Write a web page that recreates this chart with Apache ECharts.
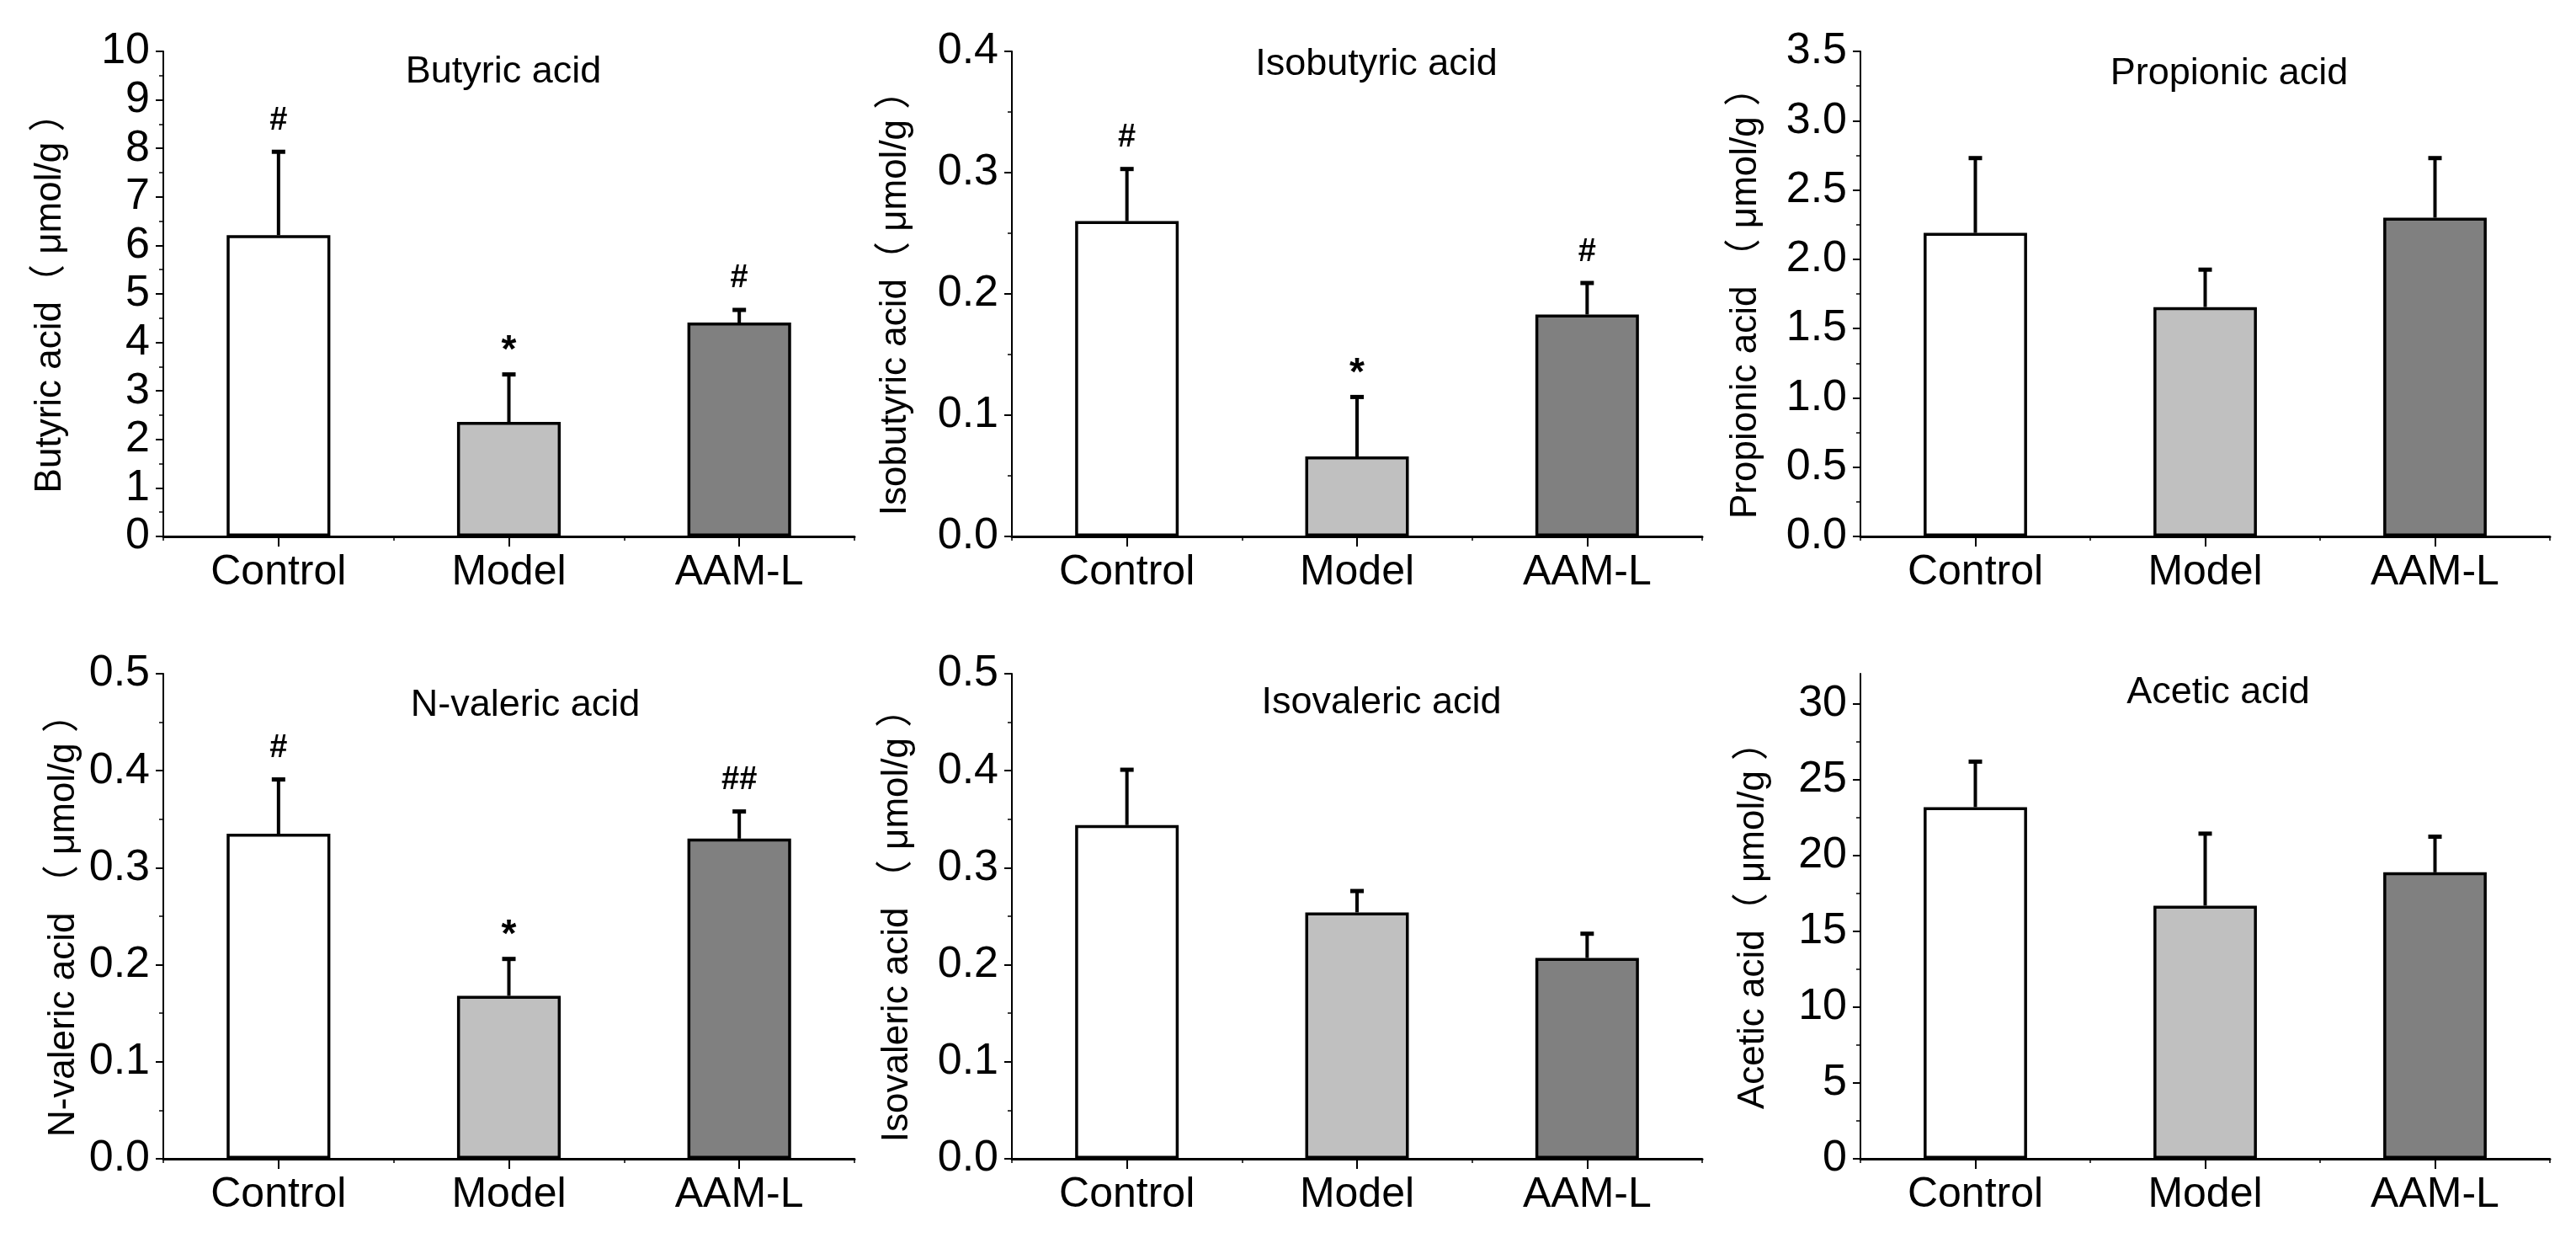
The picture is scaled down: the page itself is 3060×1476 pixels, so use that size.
<!DOCTYPE html>
<html>
<head>
<meta charset="utf-8">
<script src="https://cdn.jsdelivr.net/npm/echarts@6/dist/echarts.min.js"></script>
<style>
html,body{margin:0;padding:0;background:#fff;}
#c{width:3060px;height:1476px;}
</style>
</head>
<body>
<div id="c"></div>
<script>
const categories = ['Control', 'Model', 'AAM-L'];
const groupColors = ['#ffffff', '#c0c0c0', '#808080'];

const butyricMean = [6.21, 2.36, 4.41];
const butyricSD = [1.72, 0.98, 0.26];
const butyricMarks = ['#', '*', '#'];
const butyricTicks = [0, 1, 2, 3, 4, 5, 6, 7, 8, 9, 10];

const isobutyricMean = [0.260, 0.066, 0.183];
const isobutyricSD = [0.043, 0.049, 0.026];
const isobutyricMarks = ['#', '*', '#'];
const isobutyricTicks = [0, 0.1, 0.2, 0.3, 0.4];

const propionicMean = [2.19, 1.655, 2.30];
const propionicSD = [0.54, 0.27, 0.43];
const propionicMarks = ['', '', ''];
const propionicTicks = [0, 0.5, 1.0, 1.5, 2.0, 2.5, 3.0, 3.5];

const nvalericMean = [0.335, 0.168, 0.330];
const nvalericSD = [0.056, 0.038, 0.028];
const nvalericMarks = ['#', '*', '##'];
const nvalericTicks = [0, 0.1, 0.2, 0.3, 0.4, 0.5];

const isovalericMean = [0.344, 0.254, 0.207];
const isovalericSD = [0.057, 0.022, 0.025];
const isovalericMarks = ['', '', ''];
const isovalericTicks = [0, 0.1, 0.2, 0.3, 0.4, 0.5];

const aceticMean = [23.2, 16.7, 18.9];
const aceticSD = [3.0, 4.75, 2.35];
const aceticMarks = ['', '', ''];
const aceticTicks = [0, 5, 10, 15, 20, 25, 30];

const FONT = "'Liberation Sans', Arial, 'Noto Sans CJK SC', sans-serif";

const panels = [
  {title: 'Butyric acid', yName: 'Butyric acid\uFF08 \u03BCmol/g \uFF09', mean: butyricMean, sd: butyricSD, marks: butyricMarks, ticks: butyricTicks, max: 10, dec: 0,
   left: 194, right: 1015, top: 61, bottom: 637, tx: 598, ty: 86, nameGap: 112},
  {title: 'Isobutyric acid', yName: 'Isobutyric acid\uFF08 \u03BCmol/g \uFF09', mean: isobutyricMean, sd: isobutyricSD, marks: isobutyricMarks, ticks: isobutyricTicks, max: 0.4, dec: 1,
   left: 1202, right: 2022, top: 61, bottom: 637, tx: 1635, ty: 77, nameGap: 116},
  {title: 'Propionic acid', yName: 'Propionic acid \uFF08 \u03BCmol/g \uFF09', mean: propionicMean, sd: propionicSD, marks: propionicMarks, ticks: propionicTicks, max: 3.5, dec: 1,
   left: 2210, right: 3029, top: 61, bottom: 637, tx: 2648, ty: 88, nameGap: 114},
  {title: 'N-valeric acid', yName: 'N-valeric acid \uFF08 \u03BCmol/g \uFF09', mean: nvalericMean, sd: nvalericSD, marks: nvalericMarks, ticks: nvalericTicks, max: 0.5, dec: 1,
   left: 194, right: 1015, top: 800, bottom: 1376, tx: 624, ty: 838, nameGap: 96},
  {title: 'Isovaleric acid', yName: 'Isovaleric acid \uFF08 \u03BCmol/g \uFF09', mean: isovalericMean, sd: isovalericSD, marks: isovalericMarks, ticks: isovalericTicks, max: 0.5, dec: 1,
   left: 1202, right: 2022, top: 800, bottom: 1376, tx: 1641, ty: 835, nameGap: 114},
  {title: 'Acetic acid', yName: 'Acetic acid\uFF08 \u03BCmol/g \uFF09', mean: aceticMean, sd: aceticSD, marks: aceticMarks, ticks: aceticTicks, max: 32, dec: 0,
   left: 2210, right: 3029, top: 800, bottom: 1376, tx: 2635, ty: 823, nameGap: 105}
];

const W = 3060, H = 1476;
const grid = [], xAxis = [], yAxis = [], series = [], graphic = [];

panels.forEach((p, i) => {
  grid.push({left: p.left, top: p.top, width: p.right - p.left, height: p.bottom - p.top, containLabel: false});
  const step = p.ticks[1] - p.ticks[0];
  const minors = [];
  for (let k = 0; k < p.ticks.length - 1; k++) minors.push((p.ticks[k] + p.ticks[k + 1]) / 2);

  xAxis.push({
    type: 'category', gridIndex: i, data: categories, position: 'bottom',
    axisLine: {show: true, lineStyle: {color: '#000', width: 3}},
    axisTick: {show: true, alignWithLabel: true, interval: 0, length: 12, lineStyle: {color: '#000', width: 2}},
    axisLabel: {show: true, interval: 0, margin: 18, fontFamily: FONT, fontSize: 50, color: '#000'},
    splitLine: {show: false}
  });
  xAxis.push({
    type: 'category', gridIndex: i, data: categories, position: 'bottom',
    axisLine: {show: false},
    axisTick: {show: true, alignWithLabel: false, interval: 0, length: 5, lineStyle: {color: '#000', width: 1.5}},
    axisLabel: {show: false},
    splitLine: {show: false}
  });

  yAxis.push({
    type: 'value', gridIndex: i, min: 0, max: p.max, interval: step, position: 'left',
    name: p.yName, nameLocation: 'middle', nameGap: p.nameGap,
    nameTextStyle: {fontFamily: FONT, fontSize: 44, color: '#000'},
    axisLine: {show: true, lineStyle: {color: '#000', width: 2}},
    axisTick: {show: true, inside: false, length: 9, customValues: p.ticks, lineStyle: {color: '#000', width: 2}},
    axisLabel: {show: true, margin: 16, customValues: p.ticks, fontFamily: FONT, fontSize: 52, color: '#000',
      formatter: v => Number(v).toFixed(p.dec)},
    splitLine: {show: false}
  });
  yAxis.push({
    type: 'value', gridIndex: i, min: 0, max: p.max, interval: step, position: 'left',
    axisLine: {show: false},
    axisTick: {show: true, inside: false, length: 5, customValues: minors, lineStyle: {color: '#000', width: 1.5}},
    axisLabel: {show: false},
    splitLine: {show: false}
  });

  series.push({
    type: 'bar', xAxisIndex: 2 * i, yAxisIndex: 2 * i, barWidth: '45%',
    data: p.mean.map((m, j) => ({value: m, itemStyle: {color: groupColors[j]}})),
    itemStyle: {borderColor: '#000', borderWidth: 3.5},
    emphasis: {disabled: true}, animation: false, z: 2
  });

  series.push({
    type: 'custom', xAxisIndex: 2 * i, yAxisIndex: 2 * i, clip: false, animation: false, z: 3,
    encode: {x: 0, y: 1},
    data: p.mean.map((m, j) => [j, m, m + p.sd[j]]),
    renderItem: (params, api) => {
      const base = api.coord([api.value(0), api.value(1)]);
      const top = api.coord([api.value(0), api.value(2)]);
      const mark = p.marks[params.dataIndex];
      const children = [
        {type: 'line', shape: {x1: base[0], y1: base[1], x2: top[0], y2: top[1]}, style: {stroke: '#000', lineWidth: 4}},
        {type: 'line', shape: {x1: top[0] - 8, y1: top[1], x2: top[0] + 8, y2: top[1]}, style: {stroke: '#000', lineWidth: 5}}
      ];
      if (mark) {
        const isStar = mark === '*';
        children.push({type: 'text', x: top[0], y: top[1] - (isStar ? 4 : 18),
          style: {text: mark, fill: '#000', align: 'center', verticalAlign: 'bottom',
            font: 'bold ' + (isStar ? 46 : 38) + 'px ' + FONT}});
      }
      return {type: 'group', children: children};
    }
  });

  graphic.push({type: 'text', x: p.tx, y: p.ty, style: {text: p.title, fill: '#000', align: 'center', verticalAlign: 'middle', font: '45px ' + FONT}});
});

const chart = echarts.init(document.getElementById('c'), null, {width: W, height: H, renderer: 'canvas'});
chart.setOption({
  backgroundColor: '#fff',
  animation: false,
  grid: grid, xAxis: xAxis, yAxis: yAxis, series: series, graphic: graphic
});
</script>
</body>
</html>
